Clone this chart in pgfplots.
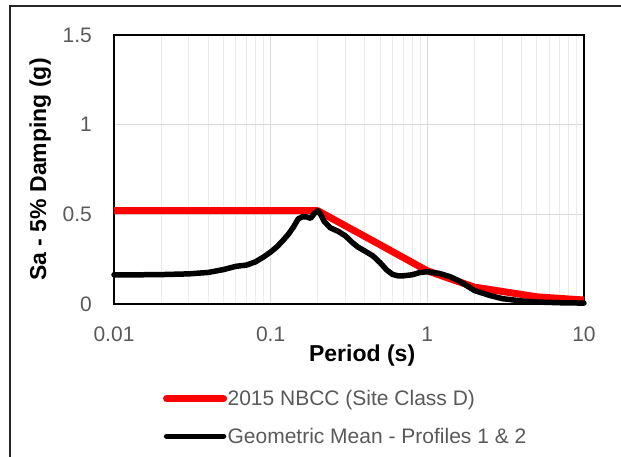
\documentclass[border=0pt]{standalone}
\usepackage{pgfplots}
\pgfplotsset{compat=1.18}
\usepackage{fontspec}
\setmainfont{Liberation Sans}
\definecolor{tickgray}{RGB}{89,89,89}
\definecolor{majgrid}{RGB}{217,217,217}
\definecolor{mingrid}{RGB}{236,236,236}
\definecolor{nbccred}{RGB}{255,0,0}
\begin{document}
\begin{tikzpicture}
\path[use as bounding box] (0,0) rectangle (621bp,457bp);
\draw[line width=1.3bp, black!85] (10bp,0bp) -- (10bp,451bp) -- (621bp,451bp);
\begin{axis}[
  at={(114bp,153bp)}, anchor=south west,
  scale only axis, width=470bp, height=269bp,
  xmode=log, xmin=0.01, xmax=10, ymin=0, ymax=1.5,
  xtick={0.01,0.1,1,10}, xticklabels={0.01,0.1,1,10},
  ytick={0,0.5,1,1.5}, yticklabels={0,0.5,1,1.5},
  minor xtick={0.02,0.03,0.04,0.05,0.06,0.07,0.08,0.09,0.2,0.3,0.4,0.5,0.6,0.7,0.8,0.9,2,3,4,5,6,7,8,9},
  tick style={draw=none},
  xmajorgrids, xminorgrids, ymajorgrids,
  major grid style={line width=1bp, majgrid},
  minor grid style={line width=1bp, mingrid},
  axis line style={line width=1.5bp, black},
  ticklabel style={font=\fontsize{21bp}{24bp}\selectfont, text=tickgray, inner sep=0pt},
  xticklabel style={anchor=north, yshift=-23bp},
  yticklabel style={anchor=east, xshift=-22bp},
  xlabel={\textbf{Period (s)}},
  ylabel={\textbf{Sa - 5\% Damping (g)}},
  label style={font=\fontsize{23bp}{26bp}\selectfont, text=black, inner sep=0pt},
  xlabel style={at={(axis description cs:0.528,-0.19)}, anchor=center},
  ylabel style={at={(axis description cs:-0.157,0.5)}, anchor=center, rotate=0},
  legend style={at={(axis description cs:0.104,-0.318)}, anchor=north west, draw=none, fill=none,
    font=\fontsize{21bp}{24bp}\selectfont, text=tickgray, row sep=20bp, inner sep=0pt,
    nodes={inner sep=0.5bp}},
  legend cell align=left,
  legend image code/.code={\draw[#1, line cap=round] (0bp,0bp) -- (57bp,0bp);},
  clip=false,
]
\addplot[nbccred, line width=7bp, line join=round] coordinates {
(0.01,0.52) (0.2,0.52) (0.5,0.33) (1,0.185) (2,0.094) (5,0.04) (10,0.022)
};
\addlegendentry{2015 NBCC (Site Class D)}
\addplot[black, line width=5.5bp, line join=round, line cap=round] coordinates {
(0.01,0.163) (0.015,0.163) (0.02,0.164) (0.03,0.168) (0.04,0.176) (0.05,0.192)
(0.06,0.21) (0.07,0.217) (0.08,0.235) (0.09,0.262) (0.1,0.29) (0.11,0.32)
(0.12,0.355) (0.13,0.39) (0.14,0.43) (0.15,0.475) (0.16,0.487) (0.17,0.485)
(0.18,0.478) (0.19,0.505) (0.2,0.52) (0.21,0.495) (0.22,0.46) (0.24,0.425)
(0.27,0.405) (0.3,0.38) (0.33,0.345) (0.36,0.318) (0.4,0.295) (0.45,0.268)
(0.5,0.23) (0.55,0.19) (0.6,0.165) (0.65,0.157) (0.7,0.157) (0.8,0.163)
(0.9,0.176) (1.0,0.18) (1.2,0.17) (1.4,0.152) (1.6,0.128) (1.8,0.1)
(2.0,0.075) (2.5,0.048) (3.0,0.03) (4.0,0.017) (5.0,0.011) (7.0,0.007) (10,0.005)
};
\addlegendentry{Geometric Mean - Profiles 1 \& 2}
\end{axis}
\end{tikzpicture}
\end{document}
